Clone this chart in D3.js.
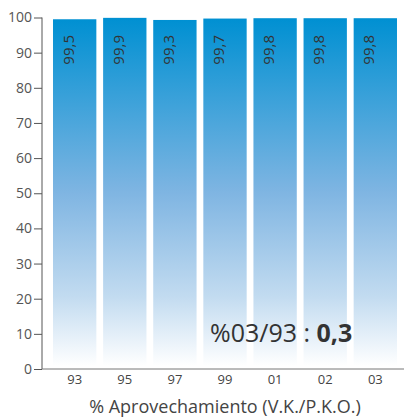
<!DOCTYPE html>
<html><head><meta charset="utf-8">
<script src="https://cdn.jsdelivr.net/npm/d3@7"></script>
<style>body{margin:0;background:#fff}svg{display:block;font-family:"Open Sans",sans-serif}</style>
</head><body>
<svg id="c" width="404" height="420"></svg>
<script>
const categories = ["93","95","97","99","01","02","03"];
const values = [99.5, 99.9, 99.3, 99.7, 99.8, 99.8, 99.8];
const valueLabels = ["99,5","99,9","99,3","99,7","99,8","99,8","99,8"];
const yTicks = [0,10,20,30,40,50,60,70,80,90,100];
const title = "% Aprovechamiento (V.K./P.K.O.)";
const noteText = "%03/93 : ";
const noteValue = "0,3";

const svg = d3.select("#c");
const x = d3.scaleBand().domain(categories).range([50, 400]).paddingInner(0.135).paddingOuter(0.06);
const y = d3.scaleLinear().domain([0,100]).range([369, 17.5]);

const defs = svg.append("defs");
const g = defs.append("linearGradient").attr("id","bg").attr("x1",0).attr("y1",0).attr("x2",0).attr("y2",1);
[[0,"#0090d2"],[0.5,"#7fb5e2"],[0.8,"#c2dbf0"],[1,"#ffffff"]].forEach(([o,c])=>g.append("stop").attr("offset",o).attr("stop-color",c));

svg.selectAll("rect.bar").data(values).join("rect").attr("class","bar")
  .attr("x",(d,i)=>x(categories[i])).attr("width",x.bandwidth())
  .attr("y",d=>y(d)).attr("height",d=>y(0)-3-y(d)).attr("fill","url(#bg)");

svg.selectAll("text.val").data(values).join("text").attr("class","val")
  .attr("transform",(d,i)=>`translate(${x(categories[i])+x.bandwidth()/2-1},35) rotate(-90)`)
  .attr("text-anchor","end").attr("font-size",15).attr("fill","#333")
  .text((d,i)=>valueLabels[i]);

// y axis
const ya = svg.append("g").attr("transform","translate(42,0)")
  .call(d3.axisLeft(y).tickValues(yTicks).tickSize(8).tickPadding(2));
ya.select(".domain").attr("stroke","#555").attr("d",`M0,${y(100)}V${y(0)}`);
ya.selectAll(".tick line").attr("stroke","#555");
ya.selectAll(".tick text").attr("font-size",14).attr("fill","#555").attr("font-family","Open Sans");

// x axis
const xa = svg.append("g").attr("transform",`translate(0,${y(0)})`)
  .call(d3.axisBottom(x).tickSize(0).tickPadding(6));
xa.select(".domain").attr("stroke","#777").attr("d","M42,0H404");
xa.selectAll(".tick text").attr("font-size",13).attr("fill","#444").attr("font-family","Open Sans");

svg.append("text").attr("x",225).attr("y",413).attr("text-anchor","middle")
  .attr("font-size",18).attr("fill","#444").text(title);

const note = svg.append("text").attr("x",210).attr("y",342).attr("font-size",25).attr("fill","#333");
note.append("tspan").text(noteText);
note.append("tspan").attr("font-weight","bold").text(noteValue);
</script>
</body></html>
